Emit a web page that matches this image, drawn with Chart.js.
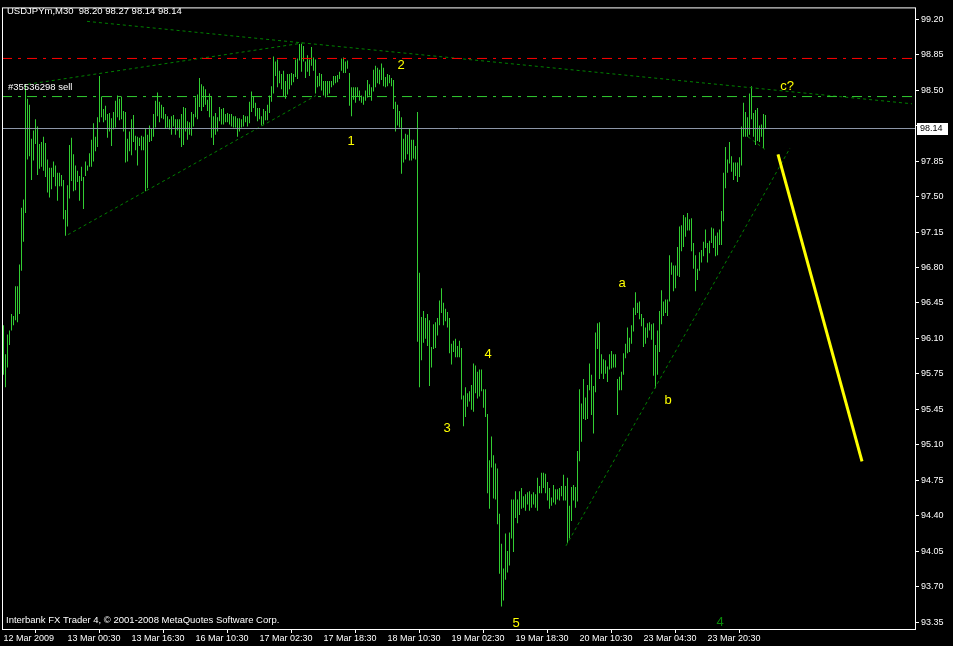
<!DOCTYPE html>
<html>
<head>
<meta charset="utf-8">
<script src="https://cdn.jsdelivr.net/npm/chart.js@4.4.1/dist/chart.umd.min.js"></script>
<style>
html, body { margin: 0; padding: 0; background: #000; }
canvas { display: block; }
</style>
</head>
<body>
<canvas id="chart" width="953" height="646"></canvas>
<script>
// USDJPYm M30 bars, one per half hour (high / low)
var highs = [
  96.23, 95.95, 96.14, 96.18, 96.34, 96.32, 96.61, 96.61, 96.82, 97.37,
  97.45, 98.57, 98.43, 98.37, 98.04, 98.12, 98.23, 98.16, 97.99, 98.01,
  98.06, 98.00, 97.84, 97.76, 97.76, 97.82, 97.78, 97.71, 97.71, 97.69,
  97.64, 97.35, 97.59, 97.98, 98.05, 97.89, 97.78, 97.73, 97.68, 97.77,
  97.67, 97.82, 97.78, 97.90, 98.03, 98.19, 98.06, 98.25, 98.65, 98.45,
  98.33, 98.36, 98.28, 98.29, 98.24, 98.30, 98.41, 98.46, 98.43, 98.45,
  98.31, 98.30, 98.04, 98.11, 98.23, 98.27, 98.07, 98.06, 98.05, 98.07,
  98.06, 98.14, 98.08, 98.17, 98.14, 98.28, 98.41, 98.49, 98.40, 98.37,
  98.35, 98.28, 98.26, 98.23, 98.26, 98.27, 98.23, 98.23, 98.23, 98.28,
  98.35, 98.34, 98.21, 98.20, 98.30, 98.28, 98.44, 98.47, 98.63, 98.57,
  98.55, 98.52, 98.42, 98.48, 98.45, 98.26, 98.29, 98.25, 98.35, 98.33,
  98.34, 98.28, 98.29, 98.28, 98.28, 98.26, 98.26, 98.24, 98.24, 98.23,
  98.27, 98.26, 98.26, 98.40, 98.50, 98.45, 98.39, 98.34, 98.34, 98.26,
  98.33, 98.31, 98.37, 98.46, 98.55, 98.84, 98.79, 98.81, 98.70, 98.67,
  98.70, 98.60, 98.67, 98.67, 98.68, 98.67, 98.81, 98.82, 98.96, 98.96,
  98.94, 98.79, 98.85, 98.81, 98.93, 98.83, 98.81, 98.65, 98.68, 98.67,
  98.60, 98.60, 98.60, 98.60, 98.60, 98.65, 98.65, 98.66, 98.69, 98.82,
  98.83, 98.79, 98.80, 98.68, 98.54, 98.54, 98.54, 98.54, 98.51, 98.46,
  98.45, 98.51, 98.61, 98.57, 98.54, 98.71, 98.75, 98.73, 98.71, 98.77,
  98.73, 98.64, 98.67, 98.66, 98.63, 98.61, 98.40, 98.37, 98.31, 98.25,
  98.04, 98.09, 98.08, 98.14, 98.03, 98.03, 97.97, 98.30, 96.74, 96.31,
  96.37, 96.30, 96.34, 96.28, 96.02, 96.24, 96.26, 96.30, 96.47, 96.59,
  96.45, 96.39, 96.36, 96.30, 96.05, 96.08, 96.10, 96.03, 96.08, 96.01,
  95.55, 95.63, 95.57, 95.59, 95.65, 95.86, 95.84, 95.78, 95.80, 95.80,
  95.61, 95.61, 95.37, 94.92, 95.15, 94.97, 94.89, 94.84, 94.40, 94.11,
  93.87, 94.21, 94.04, 94.22, 94.54, 94.54, 94.62, 94.54, 94.62, 94.65,
  94.57, 94.59, 94.61, 94.62, 94.59, 94.61, 94.59, 94.75, 94.67, 94.80,
  94.80, 94.79, 94.71, 94.65, 94.56, 94.68, 94.64, 94.64, 94.65, 94.67,
  94.78, 94.67, 94.75, 94.48, 94.66, 94.68, 94.66, 95.01, 95.61, 95.47,
  95.71, 95.53, 95.65, 95.86, 95.75, 95.64, 96.16, 96.25, 96.26, 95.95,
  95.90, 95.89, 95.83, 95.95, 95.98, 95.95, 95.95, 95.71, 95.73, 95.78,
  95.96, 96.05, 96.21, 96.11, 96.23, 96.40, 96.55, 96.45, 96.46, 96.34,
  96.30, 96.21, 96.25, 96.26, 96.24, 96.25, 96.04, 96.18, 96.37, 96.57,
  96.46, 96.48, 96.48, 96.91, 96.84, 96.81, 96.81, 96.99, 97.19, 97.20,
  97.30, 97.28, 97.32, 97.26, 97.27, 97.03, 96.91, 96.78, 96.94, 96.96,
  97.04, 97.16, 97.03, 97.05, 97.18, 97.17, 97.10, 97.13, 97.16, 97.34,
  97.71, 97.96, 97.84, 98.01, 97.87, 97.81, 97.81, 97.81, 97.86, 98.16,
  98.39, 98.30, 98.25, 98.48, 98.55, 98.29, 98.32, 98.34, 98.17, 98.18,
  98.28, 98.27
];
var lows = [
  95.75, 95.63, 95.82, 96.04, 96.18, 96.23, 96.28, 96.26, 96.34, 96.76,
  97.04, 97.32, 97.84, 97.87, 97.64, 97.83, 97.99, 97.69, 97.75, 97.77,
  97.73, 97.67, 97.52, 97.47, 97.55, 97.67, 97.58, 97.44, 97.58, 97.58,
  97.26, 97.10, 97.19, 97.46, 97.63, 97.53, 97.54, 97.62, 97.44, 97.63,
  97.36, 97.68, 97.73, 97.77, 97.77, 97.82, 97.92, 97.96, 98.20, 98.25,
  98.20, 98.22, 98.05, 98.11, 97.97, 98.13, 98.15, 98.25, 98.22, 98.23,
  98.11, 97.81, 97.82, 97.92, 97.88, 98.01, 97.93, 97.78, 97.97, 97.93,
  97.93, 97.53, 97.56, 98.01, 98.02, 98.06, 98.15, 98.26, 98.20, 98.24,
  98.23, 98.14, 98.15, 98.13, 98.08, 98.16, 98.08, 98.12, 98.05, 97.96,
  97.98, 98.11, 98.03, 98.08, 98.07, 98.16, 98.25, 98.23, 98.35, 98.31,
  98.35, 98.37, 98.31, 98.25, 98.05, 97.98, 98.08, 98.11, 98.21, 98.18,
  98.18, 98.20, 98.20, 98.18, 98.16, 98.15, 98.15, 98.06, 98.11, 98.15,
  98.16, 98.20, 98.16, 98.19, 98.30, 98.34, 98.26, 98.21, 98.23, 98.17,
  98.18, 98.22, 98.22, 98.29, 98.40, 98.48, 98.65, 98.54, 98.58, 98.52,
  98.45, 98.43, 98.47, 98.52, 98.56, 98.59, 98.64, 98.62, 98.80, 98.69,
  98.79, 98.63, 98.69, 98.65, 98.75, 98.70, 98.48, 98.54, 98.55, 98.51,
  98.46, 98.44, 98.46, 98.48, 98.54, 98.56, 98.58, 98.59, 98.62, 98.70,
  98.68, 98.68, 98.72, 98.36, 98.26, 98.42, 98.39, 98.45, 98.41, 98.39,
  98.37, 98.41, 98.44, 98.46, 98.41, 98.50, 98.54, 98.58, 98.57, 98.61,
  98.55, 98.54, 98.55, 98.58, 98.55, 98.33, 98.11, 98.17, 98.15, 97.70,
  97.81, 97.84, 97.89, 97.83, 97.83, 97.85, 97.84, 96.07, 95.63, 95.89,
  96.06, 96.10, 96.03, 95.64, 95.82, 96.00, 96.01, 96.13, 96.23, 96.35,
  96.23, 96.27, 96.21, 95.96, 95.85, 95.97, 95.92, 95.92, 95.92, 95.51,
  95.25, 95.34, 95.44, 95.49, 95.41, 95.39, 95.57, 95.52, 95.54, 95.59,
  95.43, 95.34, 94.60, 94.45, 94.85, 94.55, 94.54, 94.30, 93.82, 93.50,
  93.56, 93.76, 93.83, 93.90, 94.16, 94.03, 94.36, 94.31, 94.39, 94.45,
  94.46, 94.43, 94.49, 94.43, 94.46, 94.49, 94.46, 94.43, 94.60, 94.60,
  94.65, 94.60, 94.53, 94.45, 94.48, 94.51, 94.49, 94.54, 94.53, 94.57,
  94.53, 94.53, 94.12, 94.16, 94.33, 94.53, 94.46, 94.52, 94.91, 95.10,
  95.32, 95.31, 95.32, 95.60, 95.36, 95.18, 95.58, 96.00, 95.71, 95.76,
  95.71, 95.76, 95.68, 95.80, 95.81, 95.82, 95.82, 95.36, 95.60, 95.60,
  95.75, 95.91, 95.96, 95.97, 96.05, 96.17, 96.33, 96.35, 96.29, 96.22,
  96.02, 96.05, 96.11, 96.18, 96.09, 95.74, 95.62, 95.75, 95.97, 96.24,
  96.32, 96.35, 96.32, 96.46, 96.72, 96.56, 96.59, 96.71, 96.70, 96.95,
  96.99, 97.09, 97.15, 97.15, 96.95, 96.78, 96.56, 96.67, 96.76, 96.84,
  96.90, 96.98, 96.84, 96.93, 97.03, 96.98, 96.90, 96.91, 97.01, 97.01,
  97.24, 97.56, 97.71, 97.80, 97.72, 97.64, 97.68, 97.62, 97.67, 97.78,
  98.06, 98.06, 98.06, 98.08, 98.23, 98.06, 97.98, 98.02, 98.01, 98.06,
  97.95, 98.14
];

// time axis: bar index of each date label
var timeTicks = [0, 32, 64, 96, 128, 160, 192, 224, 256, 288, 320, 352];
var timeLabels = ['12 Mar 2009', '13 Mar 00:30', '13 Mar 16:30', '16 Mar 10:30', '17 Mar 02:30',
  '17 Mar 18:30', '18 Mar 10:30', '19 Mar 02:30', '19 Mar 18:30', '20 Mar 10:30',
  '23 Mar 04:30', '23 Mar 20:30'];

// price axis, top to bottom (the 4th slot sits under the bid box)
var priceTop = 99.20, priceBottom = 93.35;
var priceLabels = ['99.20', '98.85', '98.50', '', '97.85', '97.50', '97.15', '96.80', '96.45',
  '96.10', '95.75', '95.45', '95.10', '94.75', '94.40', '94.05', '93.70', '93.35'];

var bidPrice = 98.14;
var stopLevel = 98.82;   // red dash-dot
var orderLevel = 98.45;  // green dash-dot, order #35536298 sell

// trend lines: [bar, price, bar, price]
var trendLines = [
  [41.75, 99.18, 454.25, 98.38],
  [12.25, 98.57, 149.75, 98.97],
  [32.25, 97.11, 156.25, 98.46],
  [281.25, 94.09, 393.25, 97.95],
  [372.25, 98.06, 381.25, 97.93]
];
var forecast = [387.25, 97.89, 429.25, 94.91];

var waveText = ['1', '2', '3', '4', '5', 'a', 'b', 'c?', '4'];
var waveBar = [173.75, 198.75, 221.75, 242.25, 256.25, 309.25, 332.25, 391.75, 358.25];
var wavePrice = [98.01, 98.75, 95.23, 95.95, 93.34, 96.64, 95.50, 98.55, 93.35];
var waveColor = ['#ffff00', '#ffff00', '#ffff00', '#ffff00', '#ffff00', '#ffff00', '#ffff00', '#ffff00', '#0a8a0a'];

var xMin = -0.75, xMax = 455.75;
var FONT = 'Liberation Sans';

function segment(a, b, c, d) {
  return [{x: a, y: b}, {x: c, y: d}];
}

var datasets = [];
datasets.push({
  type: 'bar',
  data: highs.map(function(h, i) { return {x: i, y: [lows[i], h]}; }),
  backgroundColor: '#32cd32',
  borderWidth: 0,
  barThickness: 1,
  inflateAmount: 0,
  grouped: false,
  order: 5
});
datasets.push({
  type: 'line', data: segment(xMin, bidPrice, xMax, bidPrice),
  borderColor: '#8c96a8', borderWidth: 1, pointRadius: 0, order: 1
});
datasets.push({
  type: 'line', data: segment(xMin, stopLevel, xMax, stopLevel),
  borderColor: '#ff0000', borderWidth: 1, borderDash: [10, 6, 3, 6], pointRadius: 0, order: 1
});
datasets.push({
  type: 'line', data: segment(xMin, orderLevel, xMax, orderLevel),
  borderColor: '#32cd32', borderWidth: 1, borderDash: [10, 6, 3, 6], pointRadius: 0, order: 1
});
trendLines.forEach(function(t) {
  datasets.push({
    type: 'line', data: segment(t[0], t[1], t[2], t[3]),
    borderColor: '#008000', borderWidth: 1, borderDash: [3, 3], pointRadius: 0, order: 1
  });
});
datasets.push({
  type: 'line', data: segment(forecast[0], forecast[1], forecast[2], forecast[3]),
  borderColor: '#ffff00', borderWidth: 3, pointRadius: 0, order: 0
});

var mt4Plugin = {
  id: 'mt4',
  beforeDraw: function(chart) {
    var ctx = chart.ctx;
    ctx.save();
    ctx.fillStyle = '#000';
    ctx.fillRect(0, 0, chart.width, chart.height);
    ctx.restore();
  },
  afterDraw: function(chart) {
    var ctx = chart.ctx, a = chart.chartArea;
    var xs = chart.scales.x, ys = chart.scales.y;
    ctx.save();
    // frame
    ctx.strokeStyle = '#ffffff';
    ctx.lineWidth = 1;
    ctx.strokeRect(a.left + 0.5, a.top + 0.5, a.right - a.left, a.bottom - a.top);

    // texts
    ctx.fillStyle = '#ffffff';
    ctx.textBaseline = 'middle';
    ctx.textAlign = 'left';
    ctx.font = '9.5px "' + FONT + '"';
    ctx.fillText('USDJPYm,M30  98.20 98.27 98.14 98.14', 7, 11);
    ctx.fillText('#35536298 sell', 8, 87);
    ctx.fillText('Interbank FX Trader 4, \u00a9 2001-2008 MetaQuotes Software Corp.', 6, 620);

    // wave counts
    ctx.font = '13px "' + FONT + '"';
    ctx.textAlign = 'center';
    for (var k = 0; k < waveText.length; k++) {
      ctx.fillStyle = waveColor[k];
      ctx.fillText(waveText[k], xs.getPixelForValue(waveBar[k]), ys.getPixelForValue(wavePrice[k]));
    }

    // bid price box on the axis
    var by = Math.round(ys.getPixelForValue(bidPrice));
    ctx.fillStyle = '#ffffff';
    ctx.fillRect(a.right + 2, by - 6, 31, 12);
    ctx.fillStyle = '#000000';
    ctx.textAlign = 'left';
    ctx.font = '9px "' + FONT + '"';
    ctx.fillText(bidPrice.toFixed(2), a.right + 5, by);
    ctx.restore();
  }
};

new Chart(document.getElementById('chart'), {
  type: 'bar',
  data: {datasets: datasets},
  options: {
    responsive: false,
    devicePixelRatio: 1,
    animation: false,
    events: [],
    layout: {padding: {left: 2, top: 2, right: 0, bottom: 0}},
    plugins: {legend: {display: false}, tooltip: {enabled: false}},
    scales: {
      x: {
        type: 'linear',
        min: xMin,
        max: xMax,
        offset: false,
        border: {display: false},
        grid: {drawOnChartArea: false, drawTicks: true, tickLength: 4, color: '#ffffff'},
        afterBuildTicks: function(s) {
          s.ticks = timeTicks.map(function(v) { return {value: v}; });
        },
        afterFit: function(s) { s.height = 17; },
        ticks: {
          autoSkip: false,
          maxRotation: 0,
          align: 'start',
          padding: 0,
          color: '#ffffff',
          font: {family: FONT, size: 9},
          callback: function(v, i) { return timeLabels[i]; }
        }
      },
      y: {
        position: 'right',
        min: priceBottom - 7 / 103.93,
        max: priceTop + 12 / 103.93,
        border: {display: false},
        grid: {drawOnChartArea: false, drawTicks: true, tickLength: 4, color: '#ffffff'},
        afterBuildTicks: function(s) {
          var n = priceLabels.length - 1;
          s.ticks = priceLabels.map(function(l, k) {
            return {value: priceTop - k * (priceTop - priceBottom) / n};
          });
        },
        afterFit: function(s) { s.width = 38; },
        ticks: {
          autoSkip: false,
          padding: 2,
          color: '#ffffff',
          font: {family: FONT, size: 9},
          callback: function(v, i) { return priceLabels[i]; }
        }
      }
    }
  },
  plugins: [mt4Plugin]
});
</script>
</body>
</html>
